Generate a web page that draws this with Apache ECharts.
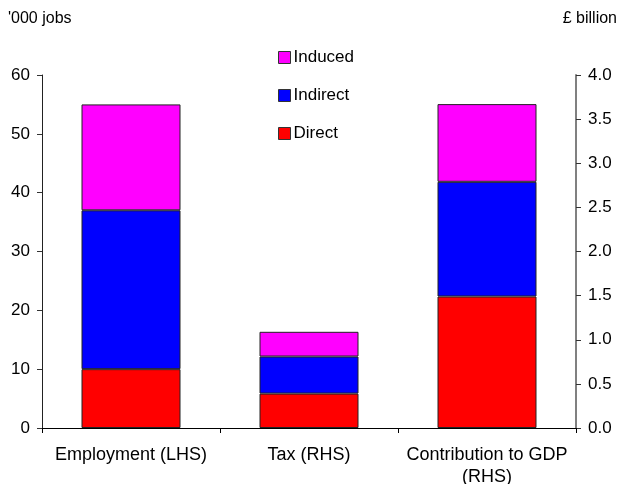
<!DOCTYPE html>
<html>
<head>
<meta charset="utf-8">
<script src="https://cdn.jsdelivr.net/npm/echarts@6/dist/echarts.min.js"></script>
<style>
  html, body { margin: 0; padding: 0; background: #fff; }
  #chart { width: 620px; height: 484px; }
</style>
</head>
<body>
<div id="chart"></div>
<script>
// Categories along the bottom axis
const categories = ['Employment (LHS)', 'Tax (RHS)', 'Contribution to GDP\n(RHS)'];

// Employment, '000 jobs (left axis)
const jobsDirect   = [10, '-', '-'];
const jobsIndirect = [27, '-', '-'];
const jobsInduced  = [18, '-', '-'];

// Tax and GDP contribution, £ billion (right axis)
const gbpDirect   = ['-', 0.39, 1.49];
const gbpIndirect = ['-', 0.42, 1.30];
const gbpInduced  = ['-', 0.28, 0.88];

// Axis ticks
const leftTicks  = { min: 0, max: 60, interval: 10 };
const rightTicks = { min: 0, max: 4, interval: 0.5 };

const colors = { Direct: '#FF0000', Indirect: '#0000FF', Induced: '#FF00FF' };
const font = 'Liberation Sans, Arial, sans-serif';

function barSeries(name, data, xIdx, yIdx, stack) {
  return {
    name: name,
    type: 'bar',
    stack: stack,
    xAxisIndex: xIdx,
    yAxisIndex: yIdx,
    data: data,
    barWidth: 99,
    itemStyle: { color: colors[name], borderColor: '#222', borderWidth: 1 },
    emphasis: { disabled: true }
  };
}

const chart = echarts.init(document.getElementById('chart'), null, { renderer: 'canvas' });
chart.setOption({
  animation: false,
  textStyle: { fontFamily: font },
  grid: { left: 42, right: 44, top: 75, bottom: 56, containLabel: false, outerBoundsMode: 'none' },
  graphic: [
    { type: 'text', left: 8, top: 11, style: { text: "'000 jobs", fontSize: 16, fontFamily: font, fill: '#000' } },
    { type: 'text', right: 3, top: 11, style: { text: '£ billion', fontSize: 16, fontFamily: font, fill: '#000' } }
  ],
  legend: {
    orient: 'vertical',
    left: 273,
    top: 44,
    itemGap: 21,
    itemWidth: 12,
    itemHeight: 12,
    icon: 'rect',
    selectedMode: false,
    data: ['Induced', 'Indirect', 'Direct'],
    textStyle: { fontSize: 17, fontFamily: font, color: '#000', padding: [0, 0, 0, -2] },
    itemStyle: { borderColor: '#333', borderWidth: 1 }
  },
  xAxis: [
    {
      type: 'category',
      data: categories,
      axisLine: { lineStyle: { color: '#000', width: 1 } },
      axisTick: { show: true, length: 5, alignWithLabel: false, lineStyle: { color: '#000' } },
      axisLabel: { fontSize: 18, color: '#000', margin: 16, lineHeight: 22, interval: 0 }
    },
    {
      type: 'category',
      data: categories,
      show: false
    }
  ],
  yAxis: [
    {
      type: 'value',
      position: 'left',
      min: leftTicks.min, max: leftTicks.max, interval: leftTicks.interval,
      splitLine: { show: false },
      axisLine: { show: true, lineStyle: { color: '#222', width: 1 } },
      axisTick: { show: true, length: 5, lineStyle: { color: '#333' } },
      axisLabel: { fontSize: 17, color: '#000', margin: 12 }
    },
    {
      type: 'value',
      position: 'right',
      min: rightTicks.min, max: rightTicks.max, interval: rightTicks.interval,
      splitLine: { show: false },
      axisLine: { show: true, lineStyle: { color: '#808080', width: 2 } },
      axisTick: { show: true, length: 5, lineStyle: { color: '#333' } },
      axisLabel: { fontSize: 17, color: '#000', margin: 12, formatter: v => v.toFixed(1) }
    }
  ],
  series: [
    barSeries('Direct', jobsDirect, 0, 0, 'jobs'),
    barSeries('Indirect', jobsIndirect, 0, 0, 'jobs'),
    barSeries('Induced', jobsInduced, 0, 0, 'jobs'),
    barSeries('Direct', gbpDirect, 1, 1, 'gbp'),
    barSeries('Indirect', gbpIndirect, 1, 1, 'gbp'),
    barSeries('Induced', gbpInduced, 1, 1, 'gbp')
  ]
});
</script>
</body>
</html>
